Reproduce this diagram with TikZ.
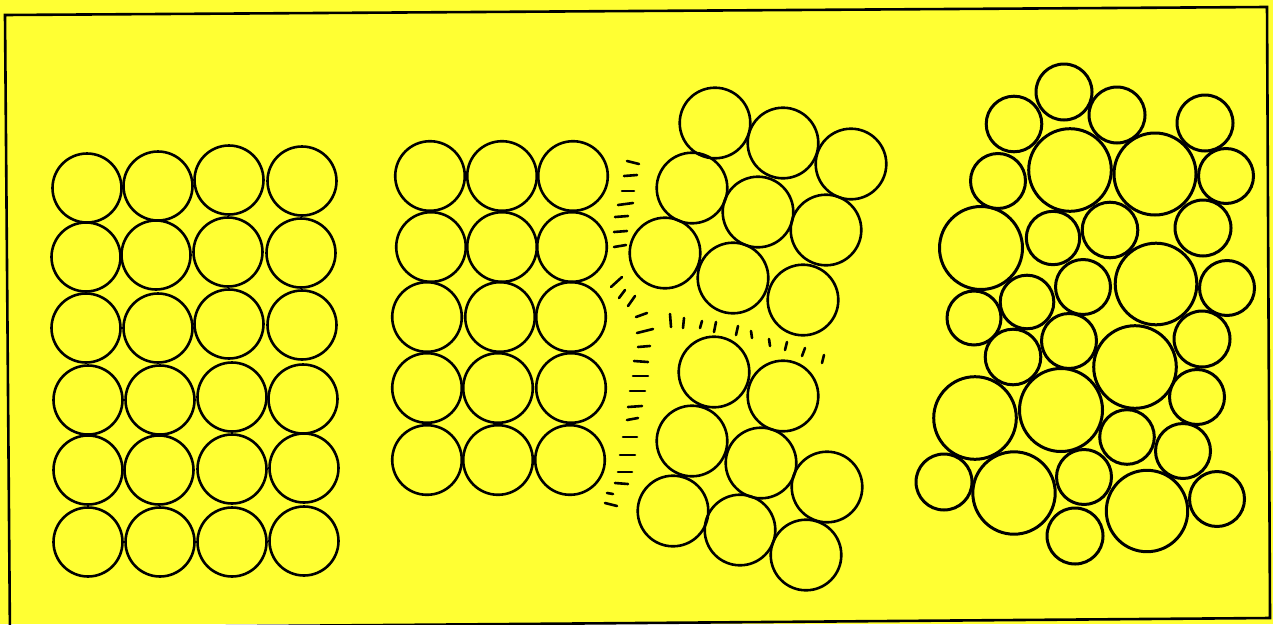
\documentclass[tikz,border=0pt]{standalone}
\definecolor{bg}{RGB}{255,255,51}
\tikzset{
  ball/.style={line width=2.6pt, draw=black},
  bigball/.style={line width=3pt, draw=black},
  tick/.style={line width=2.6pt, line cap=round, draw=black},
  frame/.style={line width=2.6pt, draw=black}
}
\begin{document}
\begin{tikzpicture}[x=1pt,y=-1pt]
\fill[bg] (0,0) rectangle (1273,624);
\useasboundingbox (0,0) rectangle (1273,624);
% frame
\draw[frame] (10,640) -- (5,15) -- (1267,7) -- (1270,618) -- (10,628);
% left grid 4x6
\foreach \x/\y in {87/188,158/186,229/180,302/181,
  86/257,156/255,228/252,301/253,
  86/328,158/328,229/324,302/325,
  88/400,160/400,232/397,303/399,
  88/470,159/470,232/469,304/468,
  88/542,160/542,232/542,304/541}
  \draw[ball] (\x,\y) circle (34.5);
% middle grid 3x5
\foreach \x/\y in {430/176,502/176,573/176,
  431/247,502/247,572/247,
  427/317,500/317,571/317,
  427/388,498/388,571/388,
  427/460,498/460,570/460}
  \draw[ball] (\x,\y) circle (34.8);
% upper broken cluster
\foreach \x/\y in {715/123,783/143,851/164,692/188,758/212,826/230,665/253,733/278,803/300}
  \draw[ball] (\x,\y) circle (35.3);
% lower broken cluster
\foreach \x/\y in {714/372,783/396,692/441,761/463,827/487,673/511,740/530,806/555}
  \draw[ball] (\x,\y) circle (35.3);
% fracture ticks (left column)
\foreach \a/\b/\c/\d in {627/161/639/164, 624/176/637/175, 622/191/634/191, 618/205/633/203,
  615/217/628/216, 614/232/627/231, 614/247/626/245,
  611/287/622/277, 619/298/625/290, 628/306/635/296, 636/317/647/313, 637/333/653/329,
  638/347/650/346, 634/361/648/362, 633/376/648/376, 630/391/645/391, 628/407/642/406,
  627/420/638/418, 623/437/637/437, 620/455/635/455, 618/472/632/472, 615/483/628/484,
  607/493/613/494, 605/503/617/506}
  \draw[tick] (\a,\b) -- (\c,\d);
% fracture ticks (top row)
\foreach \a/\b/\c/\d in {670/314/671/327, 684/318/683/328, 702/321/700/328, 716/322/714/332,
  738/326/736/335, 751/331/752/338, 769/339/770/346, 787/342/785/350, 805/348/802/356, 824/355/822/363}
  \draw[tick] (\a,\b) -- (\c,\d);
% right random cluster
\foreach \x/\y/\r in {1064/92/28, 1014/124/27.8, 1117/115/28, 1205/123/28,
  1070/170/41.3, 1155/174/41, 998/181/27.5, 1226/176/27.5,
  981/248/41.5, 1053/238/26.7, 1110/230/27.8, 1203/228/28,
  1156/284/40.8, 1083/287/27.5, 1227/288/27.5, 1027/302/26.8, 974/318/27,
  1013/357/27.8, 1069/341/27.5, 1135/367/41.3, 1202/339/28,
  975/418/41.3, 1061/410/41.5, 1197/397/27.5, 1127/437/27.3, 1183/451/27.5,
  944/482/28, 1014/493/41.2, 1084/477/27.5, 1147/511/40.7, 1217/499/27.5, 1075/536/28}
  \draw[bigball] (\x,\y) circle (\r);
\end{tikzpicture}
\end{document}
